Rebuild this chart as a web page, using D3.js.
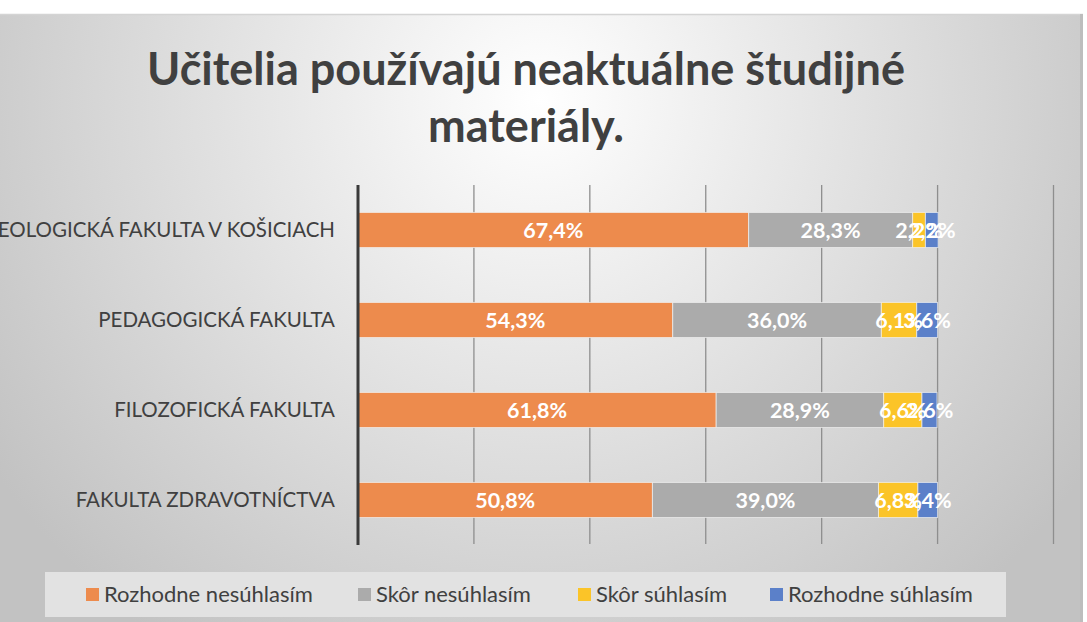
<!DOCTYPE html>
<html>
<head>
<meta charset="utf-8">
<script src="https://cdn.jsdelivr.net/npm/d3@7"></script>
<style>
  body { margin: 0; background: #fff; }
  svg text { font-family: Lato, "Open Sans", sans-serif; }
</style>
</head>
<body>
<svg id="chart" width="1087" height="622"></svg>
<script>
// data, top row first
const categories = ["TEOLOGICKÁ FAKULTA V KOŠICIACH", "PEDAGOGICKÁ FAKULTA", "FILOZOFICKÁ FAKULTA", "FAKULTA ZDRAVOTNÍCTVA"];
const seriesNames = ["Rozhodne nesúhlasím", "Skôr nesúhlasím", "Skôr súhlasím", "Rozhodne súhlasím"];
const rozhodneNesuhlasim = [67.4, 54.3, 61.8, 50.8];
const skorNesuhlasim = [28.3, 36.0, 28.9, 39.0];
const skorSuhlasim = [2.2, 6.1, 6.6, 6.8];
const rozhodneSuhlasim = [2.2, 3.6, 2.6, 3.4];
const xTicks = [0, 20, 40, 60, 80, 100, 120];
const title = ["Učitelia používajú neaktuálne študijné", "materiály."];

const colors = ["#ED8B4D", "#ABABAB", "#FBC428", "#5B80C9"];

const svg = d3.select("#chart");

// background with soft radial gradient
const defs = svg.append("defs");
const grad = defs.append("radialGradient")
    .attr("id", "bg")
    .attr("gradientUnits", "userSpaceOnUse")
    .attr("cx", 540).attr("cy", 100).attr("r", 660);
grad.append("stop").attr("offset", "0%").attr("stop-color", "#ffffff");
grad.append("stop").attr("offset", "100%").attr("stop-color", "#c2c2c2");

svg.append("rect")
    .attr("x", 0).attr("y", 14)
    .attr("width", 1083).attr("height", 608)
    .attr("fill", "url(#bg)");
svg.append("line")
    .attr("x1", 0).attr("x2", 1083)
    .attr("y1", 14.5).attr("y2", 14.5)
    .attr("stroke", "#d4d4d4").attr("stroke-width", 1.5);
svg.append("line")
    .attr("x1", 1081.5).attr("x2", 1081.5)
    .attr("y1", 14).attr("y2", 622)
    .attr("stroke", "#bdbdbd").attr("stroke-width", 3);

// title
svg.append("g").selectAll("text")
    .data(title)
    .enter().append("text")
    .attr("x", 526)
    .attr("y", (d, i) => 85 + i * 57)
    .attr("text-anchor", "middle")
    .attr("font-size", 45)
    .attr("font-weight", "bold")
    .attr("fill", "#404040")
    .text(d => d);

// scales
const x = d3.scaleLinear().domain([0, 120]).range([358, 1053.5]);
const y = d3.scaleBand().domain(categories).range([185, 545])
    .paddingInner(0.61).paddingOuter(0.305);

// gridlines
svg.append("g").selectAll("line")
    .data(xTicks.slice(1))
    .enter().append("line")
    .attr("x1", d => x(d)).attr("x2", d => x(d))
    .attr("y1", 185).attr("y2", 544)
    .attr("stroke", "#8e8e8e").attr("stroke-width", 1.3);

// stacked data
const rows = categories.map((c, i) => ({
    cat: c,
    v: [rozhodneNesuhlasim[i], skorNesuhlasim[i], skorSuhlasim[i], rozhodneSuhlasim[i]]
}));
const segs = [];
rows.forEach(r => {
    let acc = 0;
    r.v.forEach((v, k) => {
        segs.push({ cat: r.cat, k: k, x0: acc, x1: acc + v, v: v });
        acc += v;
    });
});

svg.append("g").selectAll("rect")
    .data(segs)
    .enter().append("rect")
    .attr("x", d => x(d.x0))
    .attr("y", d => y(d.cat))
    .attr("width", d => x(d.x1) - x(d.x0))
    .attr("height", y.bandwidth())
    .attr("fill", d => colors[d.k])
    .attr("stroke", "#f2f2f2")
    .attr("stroke-opacity", 0.7)
    .attr("stroke-width", 1);

// data labels (small segments overlap, as in the original)
svg.append("g").selectAll("text")
    .data(segs)
    .enter().append("text")
    .attr("x", d => (x(d.x0) + x(d.x1)) / 2)
    .attr("y", d => y(d.cat) + y.bandwidth() / 2 + 8)
    .attr("text-anchor", "middle")
    .attr("font-size", 21.5)
    .attr("font-weight", "bold")
    .attr("fill", "#ffffff")
    .text(d => d.v.toFixed(1).replace(".", ",") + "%");

// axis line
svg.append("line")
    .attr("x1", x(0)).attr("x2", x(0))
    .attr("y1", 185).attr("y2", 545)
    .attr("stroke", "#3a3a3a").attr("stroke-width", 3);

// category labels
svg.append("g").selectAll("text")
    .data(categories)
    .enter().append("text")
    .attr("x", 335)
    .attr("y", d => y(d) + y.bandwidth() / 2 + 7)
    .attr("text-anchor", "end")
    .attr("font-size", 20.5)
    .attr("fill", "#404040")
    .text(d => d);

// legend
svg.append("rect")
    .attr("x", 45).attr("y", 572)
    .attr("width", 961).attr("height", 45)
    .attr("fill", "#e2e2e2");
const legendX = [86, 358, 578, 770];
const lg = svg.append("g").selectAll("g")
    .data(seriesNames)
    .enter().append("g")
    .attr("transform", (d, i) => "translate(" + legendX[i] + ",588)");
lg.append("rect")
    .attr("width", 13).attr("height", 13)
    .attr("fill", (d, i) => colors[i]);
lg.append("text")
    .attr("x", 18).attr("y", 14)
    .attr("font-size", 22)
    .attr("fill", "#404040")
    .text(d => d);
</script>
</body>
</html>
